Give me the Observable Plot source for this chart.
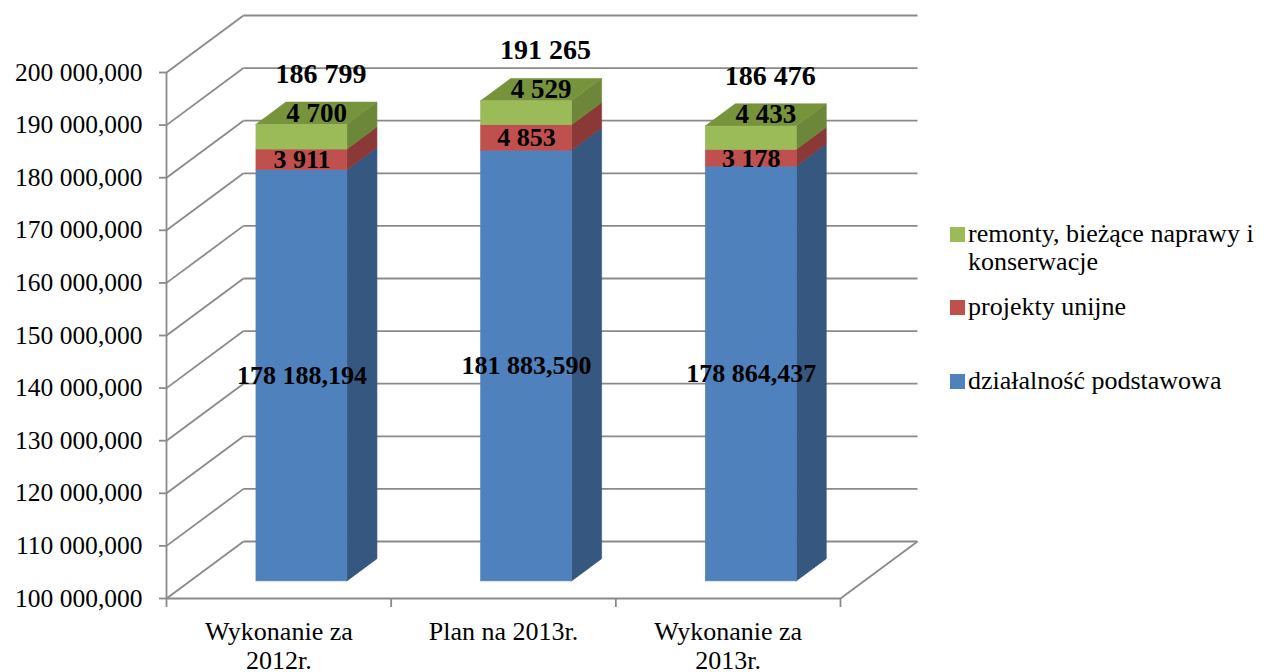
<!DOCTYPE html>
<html>
<head>
<meta charset="utf-8">
<script src="https://cdn.jsdelivr.net/npm/d3@7"></script>
<script src="https://cdn.jsdelivr.net/npm/@observablehq/plot@0.6"></script>
<style>
  html, body { margin: 0; padding: 0; background: #fff; }
  #wrap { position: relative; width: 1264px; height: 672px; font-family: "Liberation Serif", "Times New Roman", serif; color: #000; }
  #chart { position: absolute; left: 0; top: 0; }
  .lg-sw { position: absolute; width: 15px; height: 15px; }
  .lg-tx { position: absolute; font-size: 26px; line-height: 28px; height: 28px; white-space: nowrap; }
</style>
</head>
<body>
<div id="wrap">
  <div id="chart"></div>
  <div id="legend"></div>
</div>
<script>
// ---- data ----
const categories = ["Wykonanie za\n2012r.", "Plan na 2013r.", "Wykonanie za\n2013r."];
const seriesNames = ["działalność podstawowa", "projekty unijne", "remonty, bieżące naprawy i\nkonserwacje"];
const podstawowa = [178188.194, 181883.590, 178864.437];
const unijne = [3911, 4853, 3178];
const remonty = [4700, 4529, 4433];
const totals = [186799, 191265, 186476];
const yTicks = [100000, 110000, 120000, 130000, 140000, 150000, 160000, 170000, 180000, 190000, 200000];
const yMin = 100000, yMax = 200000;

// ---- styling ----
const frontColors = ["#4F81BD", "#C0504D", "#9BBB59"];
const sideColors = ["#36577F", "#8A3937", "#6C8739"];
const topColor = "#77933C";
const gridColor = "#8A8A8A";

// oblique depth (in data units of the x / y scales)
const DX = 0.3427, DY = 10837;
const hw = 0.2025, d0 = 0.30, d1 = 0.69;

const loc = d3.formatLocale({decimal: ",", thousands: " ", grouping: [3], currency: ["", ""]});
const f3 = loc.format(",.3f");
const f0 = loc.format(",.0f");

// stacked segments (bars rest on the floor at yMin)
const segs = [];
categories.forEach((c, i) => {
  const vals = [podstawowa[i], unijne[i], remonty[i]];
  let cum = 0;
  vals.forEach((v, s) => {
    const lo = s === 0 ? yMin : cum;
    cum += v;
    segs.push({i, s, lo, hi: cum, v, key: i + "-" + s});
  });
});

const fronts = segs.map(d => ({...d, x1: d.i - hw + d0 * DX, x2: d.i + hw + d0 * DX, y1: d.lo + d0 * DY, y2: d.hi + d0 * DY, fill: frontColors[d.s]}));
const sides = segs.flatMap(d => [d0, d1].map(t => ({key: d.key, x: d.i + hw + t * DX, y1: d.lo + t * DY, y2: d.hi + t * DY, fill: sideColors[d.s]})));
const tops = segs.filter(d => d.s === 2).flatMap(d => [d0, d1].map(t => ({key: d.key, y: d.hi + t * DY, x1: d.i - hw + t * DX, x2: d.i + hw + t * DX})));

const labelsMain = segs.filter(d => d.s < 2).map(d => ({x: d.i + d0 * DX, y: (d.lo + d.hi) / 2 + d0 * DY, text: d.s === 0 ? f3(d.v) : f0(d.v)}));
const labelsGreen = segs.filter(d => d.s === 2).map(d => ({x: d.i + 0.49 * DX, y: (d.lo + d.hi) / 2 + 0.49 * DY, text: f0(d.v)}));
const labelsTotal = segs.filter(d => d.s === 2).map(d => ({x: d.i + d0 * DX, y: d.hi + d0 * DY, text: f0(totals[d.i])}));

const backGrid = yTicks.map(v => ({x1: -0.5 + DX, x2: 2.5 + DX, y1: v + DY, y2: v + DY}));
const sideGrid = yTicks.map(v => ({x1: -0.5, x2: -0.5 + DX, y1: v, y2: v + DY}));

const chart = Plot.plot({
  width: 940,
  height: 672,
  marginLeft: 166,
  marginRight: 100,
  marginTop: 72,
  marginBottom: 74,
  style: {fontFamily: "'Liberation Serif', 'Times New Roman', serif", fontSize: "26px", color: "#000", background: "#fff", overflow: "visible"},
  x: {type: "linear", domain: [-0.5, 2.5]},
  y: {type: "linear", domain: [yMin, yMax]},
  color: {type: "identity"},
  marks: [
    // walls
    Plot.link(backGrid, {x1: "x1", x2: "x2", y1: "y1", y2: "y2", stroke: gridColor, strokeWidth: 1.8}),
    Plot.link(sideGrid, {x1: "x1", x2: "x2", y1: "y1", y2: "y2", stroke: gridColor, strokeWidth: 1.8}),
    Plot.link([{x1: 2.5, x2: 2.5 + DX, y1: yMin, y2: yMin + DY}], {x1: "x1", x2: "x2", y1: "y1", y2: "y2", stroke: gridColor, strokeWidth: 1.8}),
    Plot.ruleY([yMin], {x1: -0.5, x2: 2.5, stroke: gridColor, strokeWidth: 1.8}),
    Plot.ruleX([-0.5], {y1: yMin, y2: yMax, stroke: gridColor, strokeWidth: 1.8}),
    // bars
    Plot.areaY(sides, {x: "x", y1: "y1", y2: "y2", z: "key", fill: "fill", stroke: "fill", strokeWidth: 0.6}),
    Plot.areaX(tops, {y: "y", x1: "x1", x2: "x2", z: "key", fill: topColor, stroke: topColor, strokeWidth: 0.6}),
    Plot.rect(fronts, {x1: "x1", x2: "x2", y1: "y1", y2: "y2", fill: "fill", stroke: "fill", strokeWidth: 0.6}),
    // axes
    Plot.axisY({ticks: yTicks, tickFormat: f3, tickSize: 7, tickPadding: 17, stroke: gridColor, strokeWidth: 1.8, fill: "#000", fontSize: 25.5, label: null}),
    Plot.axisX({ticks: [-0.5, 0.5, 1.5, 2.5], tickFormat: () => "", tickSize: 9, stroke: gridColor, strokeWidth: 1.8, label: null}),
    Plot.axisX({ticks: [0, 1, 2], tickFormat: i => categories[i], tickSize: 0, tickPadding: 22, fill: "#000", fontSize: 26, lineHeight: 1.08, label: null}),
    // labels
    Plot.text(labelsMain, {x: "x", y: "y", text: "text", fontSize: 26, fontWeight: "bold", fill: "#000"}),
    Plot.text(labelsGreen, {x: "x", y: "y", text: "text", fontSize: 27, fontWeight: "bold", fill: "#000", dy: -13}),
    Plot.text(labelsTotal, {x: "x", y: "y", text: "text", fontSize: 28, fontWeight: "bold", fill: "#000", dx: 19, dy: -51})
  ]
});
document.getElementById("chart").appendChild(chart);

// legend (right side)
const legendItems = [
  {name: seriesNames[2], color: frontColors[2], top: 220},
  {name: seriesNames[1], color: frontColors[1], top: 293},
  {name: seriesNames[0], color: frontColors[0], top: 367}
];
const lg = document.getElementById("legend");
legendItems.forEach(it => {
  const sw = document.createElement("div");
  sw.className = "lg-sw";
  sw.style.left = "950px";
  sw.style.top = (it.top + 7) + "px";
  sw.style.background = it.color;
  lg.appendChild(sw);
  it.name.split("\n").forEach((line, k) => {
    const tx = document.createElement("div");
    tx.className = "lg-tx";
    tx.style.left = "968px";
    tx.style.top = (it.top + k * 28) + "px";
    tx.textContent = line;
    lg.appendChild(tx);
  });
});
</script>
</body>
</html>
